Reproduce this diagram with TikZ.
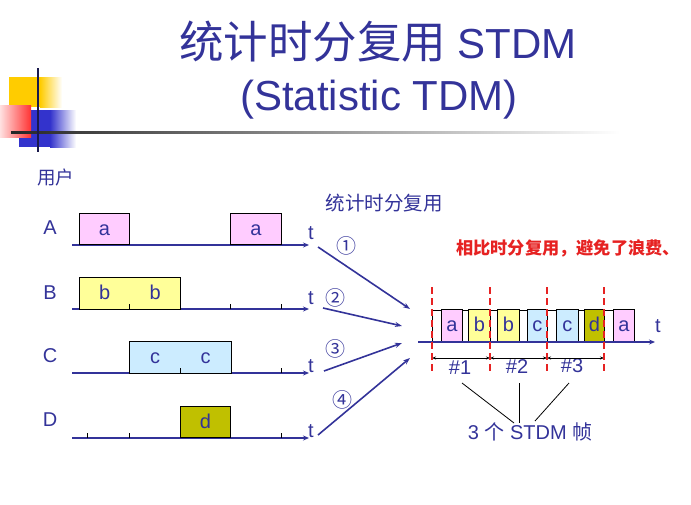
\documentclass[tikz,border=0pt]{standalone}
\usepackage{fontspec}
\setmainfont{Liberation Sans}
\newfontfamily\cjk{Noto Sans CJK SC}
\usetikzlibrary{arrows.meta}
\definecolor{navy}{HTML}{333399}
\definecolor{pinkc}{HTML}{FFCCFF}
\definecolor{yellowc}{HTML}{FFFF99}
\definecolor{bluec}{HTML}{CCECFF}
\definecolor{olivec}{HTML}{C0C000}
\definecolor{redc}{HTML}{E62222}
\definecolor{decoyellow}{HTML}{FFCC00}
\definecolor{decoblue}{HTML}{3333CC}
\definecolor{decored}{HTML}{FF3333}
\tikzset{
    txt/.style={text=navy,inner sep=0pt,font=\fontsize{20}{24}\selectfont},
    axis/.style={draw=navy,line width=1.6pt,-{Stealth[length=6pt,width=5pt]}},
    feed/.style={draw=navy,line width=1.6pt,-{Stealth[length=7pt,width=5pt]}},
    slot/.style={draw=black,line width=0.8pt,inner sep=0pt,anchor=south west,
        text height=12pt,text depth=0pt,text=navy,font=\fontsize{20}{24}\selectfont},
    tick/.style={draw=black,line width=0.8pt},
    frameline/.style={draw=redc,line width=1.8pt,dash pattern=on 7pt off 4pt},
    span/.style={draw=black,line width=0.8pt,{Stealth[length=4pt,width=3pt]}-{Stealth[length=4pt,width=3pt]}}
}

\begin{document}
\begin{tikzpicture}[x=1pt,y=-1pt]
    \useasboundingbox (0,0) rectangle (691,504);
    % corner decoration
    \fill[decoyellow] (9,77) rectangle (40,107);
    \shade[left color=decoyellow,right color=white] (40,77) rectangle (62,107);
    \fill[decoblue] (19,110) rectangle (50,147);
    \shade[left color=decoblue,right color=white] (50,110) rectangle (76,147);
    \shade[left color=decored!15,right color=decored] (0,105) rectangle (31,137);
    \shade[left color=black!85,middle color=black!45,right color=white] (11,131) rectangle (620,133.5);
    \draw[line width=1.6pt,navy!50!black] (38,68) -- (38,152);

    \node[text=navy,anchor=base,font=\fontsize{42}{48}\selectfont] (title1) at (378,58) {{\cjk\fontsize{44.5}{48}\selectfont 统计时分复用} STDM};
    \node[text=navy,anchor=base,font=\fontsize{42}{48}\selectfont] (title2) at (379,110) {(Statistic TDM)};

    \begin{scope}[every node/.style={txt}]
        \node (users) at (56,177) {\cjk\fontsize{18.5}{22}\selectfont 用户};
        \node (lA) at (50,228) {A};
        \node (lB) at (50,293) {B};
        \node (lC) at (50,356) {C};
        \node (lD) at (50,420) {D};
        \node (tA) at (311,233) {t};
        \node (tB) at (311,298) {t};
        \node (tC) at (311,366) {t};
        \node (tD) at (311,431) {t};
        \node (n1) at (346,246) {\cjk ①};
        \node (n2) at (335,298) {\cjk ②};
        \node (n3) at (335,349) {\cjk ③};
        \node (n4) at (342,400) {\cjk ④};
        \node (stdm) at (384,203) {\cjk\fontsize{19.5}{22}\selectfont 统计时分复用};
        \node (tR) at (658,326) {t};
        \node (f1) at (460,368) {\#1};
        \node (f2) at (517,367) {\#2};
        \node (f3) at (572,366) {\#3};
        \node (frames) at (530,432) {3 {\cjk 个} STDM {\cjk 帧}};
    \end{scope}
    \node[anchor=west,inner sep=0pt,text=redc,font=\cjk\bfseries\fontsize{17.2}{20}\selectfont] (note) at (456,248) {相比时分复用，避免了浪费、};

    % user time lines
    \draw[axis] (72,245) -- (309,245);
    \draw[axis] (72,309) -- (309,309);
    \draw[axis] (72,373) -- (309,373);
    \draw[axis] (72,438) -- (309,438);
    \foreach \x in {129,230,281} \draw[tick] (\x,309) -- (\x,304);
    \foreach \x in {180,281} \draw[tick] (\x,373) -- (\x,368);
    \foreach \x in {87,129,281} \draw[tick] (\x,438) -- (\x,433);

    \node[slot,fill=pinkc,minimum width=50pt,minimum height=31pt] (a1) at (79,245) {a};
    \node[slot,fill=pinkc,minimum width=51pt,minimum height=31pt] (a2) at (230,245) {a};
    \node[slot,draw=none,fill=yellowc,minimum width=50.5pt,minimum height=31pt] (b1) at (79,309) {b};
    \node[slot,draw=none,fill=yellowc,minimum width=50.5pt,minimum height=31pt] (b2) at (129.5,309) {b};
    \draw[line width=0.8pt] (b1.south west) rectangle (b2.north east);
    \draw[tick] (129,309) -- (129,304);
    \node[slot,draw=none,fill=bluec,minimum width=50.5pt,minimum height=31pt] (c1) at (129.5,373) {c};
    \node[slot,draw=none,fill=bluec,minimum width=50.5pt,minimum height=31pt] (c2) at (180,373) {c};
    \draw[line width=0.8pt] (c1.south west) rectangle (c2.north east);
    \draw[tick] (180,373) -- (180,368);
    \node[slot,fill=olivec,minimum width=50pt,minimum height=31pt] (d1) at (180,438) {d};

    % multiplexer inputs
    \coordinate (in1) at (318,247);
    \coordinate (in2) at (323,308);
    \coordinate (in3) at (324,371);
    \coordinate (in4) at (318,435);
    \coordinate (mx1) at (410,309);
    \coordinate (mx2) at (402,326);
    \coordinate (mx3) at (402,343);
    \coordinate (mx4) at (410,358);
    \draw[feed] (in1) -- (mx1);
    \draw[feed] (in2) -- (mx2);
    \draw[feed] (in3) -- (mx3);
    \draw[feed] (in4) -- (mx4);

    % STDM frames
    \draw[line width=0.8pt] (432,310) rectangle (634,342);
    \node[slot,fill=pinkc,minimum width=21pt,minimum height=32pt] (r1) at (441,342) {a};
    \node[slot,fill=yellowc,minimum width=22pt,minimum height=32pt] (r2) at (468,342) {b};
    \node[slot,fill=yellowc,minimum width=22pt,minimum height=32pt] (r3) at (497,342) {b};
    \node[slot,fill=bluec,minimum width=20pt,minimum height=32pt] (r4) at (527,342) {c};
    \node[slot,fill=bluec,minimum width=22pt,minimum height=32pt] (r5) at (556,342) {c};
    \node[slot,fill=olivec,minimum width=20pt,minimum height=32pt] (r6) at (584,342) {d};
    \node[slot,fill=pinkc,minimum width=21pt,minimum height=32pt] (r7) at (613,342) {a};
    \draw[axis] (418,342) -- (655,342);

    \coordinate (p0) at (432,358);
    \coordinate (p1) at (490,358);
    \coordinate (p2) at (547,358);
    \coordinate (p3) at (604,358);
    \draw[span] (p0) -- (p1);
    \draw[span] (p1) -- (p2);
    \draw[span] (p2) -- (p3);
    \foreach \x in {432,490,547,604} \draw[frameline] (\x,287) -- (\x,374);

    \coordinate (k1) at (462,383);
    \coordinate (k2) at (519,383);
    \coordinate (k3) at (569,383);
    \coordinate (j1) at (514,423);
    \coordinate (j2) at (519,423);
    \coordinate (j3) at (535,421);
    \draw[line width=0.8pt] (k1) -- (j1);
    \draw[line width=0.8pt] (k2) -- (j2);
    \draw[line width=0.8pt] (k3) -- (j3);
\end{tikzpicture}
\end{document}
